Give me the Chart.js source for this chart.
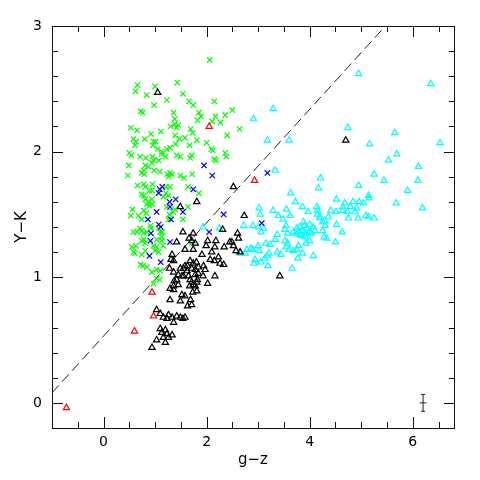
<!DOCTYPE html>
<html lang="en">
<head>
<meta charset="UTF-8">
<title>Y-K vs g-z</title>
<script src="https://cdn.jsdelivr.net/npm/chart.js"></script>
<style>
  html, body { margin: 0; padding: 0; background: #fff; }
</style>
</head>
<body>
<canvas id="colourChart" width="480" height="480"></canvas>
<script>
// axis ranges and ticks
const xRange = [-1, 6.8];
const yRange = [-0.2, 3];
const xTickVals = [-0.5, 0, 0.5, 1, 1.5, 2, 2.5, 3, 3.5, 4, 4.5, 5, 5.5, 6, 6.5];
const xLabels = [0, 2, 4, 6];
const yTickVals = [0, 0.2, 0.4, 0.6, 0.8, 1, 1.2, 1.4, 1.6, 1.8, 2, 2.2, 2.4, 2.6, 2.8, 3];
const yLabels = [0, 1, 2, 3];

// green crosses
const greenPts = [
  [2.06,2.73],[0.66,2.53],[0.62,2.48],[1.0,2.52],[1.43,2.55],[0.84,2.45],[1.54,2.46],[1.23,2.41],[1.66,2.40],[1.74,2.37],
  [2.15,2.40],[0.98,2.37],[0.72,2.32],[0.76,2.31],[1.36,2.31],[1.85,2.31],[1.89,2.28],[1.82,2.25],[1.38,2.26],[2.36,2.29],
  [2.5,2.33],[2.17,2.28],[2.27,2.23],[2.11,2.24],[1.38,2.22],[1.30,2.20],[1.45,2.21],[1.42,2.19],[0.53,2.19],[0.65,2.17],
  [1.11,2.16],[0.92,2.14],[1.69,2.18],[1.73,2.15],[1.39,2.13],[1.58,2.11],[1.47,2.10],[0.58,2.10],[0.63,2.08],[0.61,2.05],
  [0.80,2.10],[0.97,2.08],[1.01,2.08],[0.96,2.05],[1.81,2.09],[2.0,2.07],[2.40,2.13],[1.40,2.06],[1.29,2.03],[1.67,2.05],
  [1.05,2.02],[1.13,2.0],[1.23,2.02],[2.09,2.02],[2.12,2.01],[0.5,1.99],[2.36,1.99],[2.64,2.18],[2.15,1.94],
  [0.54,1.97],[0.71,1.96],[0.82,1.95],[0.95,1.96],[0.97,1.93],[0.94,1.91],[1.07,1.93],[1.13,1.98],[1.2,1.96],[1.42,1.97],
  [1.49,1.96],[1.71,1.97],[1.68,1.95],[2.18,1.93],[2.38,1.96],[0.49,1.89],[0.81,1.89],[0.87,1.88],[0.78,1.85],[0.74,1.83],
  [0.79,1.82],[0.98,1.85],[1.09,1.84],[1.24,1.82],[1.29,1.83],[1.33,1.82],[1.26,1.80],[0.47,1.81],[1.49,1.81],[1.56,1.79],
  [1.72,1.82],[0.66,1.73],[0.78,1.74],[0.81,1.72],[0.95,1.74],[0.89,1.69],[0.94,1.69],[0.74,1.66],[0.78,1.65],[1.21,1.72],
  [1.29,1.72],[1.21,1.67],[1.26,1.65],[1.16,1.64],[1.64,1.72],[1.85,1.67],[0.81,1.62],[0.87,1.60],[0.94,1.62],[0.84,1.58],
  [0.89,1.57],[0.95,1.58],[0.56,1.54],[0.53,1.49],[0.78,1.53],[0.83,1.51],[0.68,1.49],[0.74,1.46],[1.23,1.56],[1.28,1.50],
  [1.35,1.52],[1.39,1.54],[1.26,1.46],[1.54,1.46],[1.64,1.56],[0.91,1.41],[0.92,1.39],[0.71,1.39],[0.74,1.37],[0.65,1.36],
  [0.58,1.36],[0.78,1.35],[0.84,1.36],[1.07,1.39],[1.10,1.36],[1.14,1.36],[1.13,1.32],[0.78,1.30],[0.74,1.29],[0.81,1.27],
  [1.03,1.30],[1.13,1.29],[1.16,1.25],[1.03,1.24],[0.97,1.25],[0.55,1.24],[0.63,1.25],[0.58,1.20],[0.61,1.19],[0.74,1.18],
  [0.81,1.21],[1.0,1.21],[1.07,1.20],[0.72,1.10],[0.76,1.09],[0.84,1.08],[0.94,1.04],[1.03,1.06],[1.10,1.05],[1.03,0.99],
  [1.09,0.98],[0.97,0.95],[1.71,1.27]
];

// blue crosses
const bluePts = [
  [1.95,1.89],[2.11,1.81],[1.14,1.72],[1.09,1.70],[1.07,1.67],[1.74,1.70],[1.28,1.60],[1.29,1.56],[1.40,1.62],[1.54,1.52],
  [1.03,1.52],[1.31,1.46],[0.86,1.46],[2.33,1.50],[1.07,1.42],[1.11,1.40],[0.92,1.35],[1.29,1.28],[0.91,1.29],[0.89,1.17],
  [1.11,1.12],[3.18,1.83],[2.05,1.36],[3.07,1.43]
];

// red triangles
const redPts = [[2.05,2.20],[2.93,1.77],[0.94,0.88],[0.97,0.69],[0.60,0.57],[-0.72,-0.04]];

// black triangles
const blackPts = [
  [1.05,2.47],[2.52,1.72],[1.81,1.60],[1.49,1.56],[4.70,2.09],[2.73,1.49],[2.60,1.35],[2.62,1.31],[2.49,1.28],[2.52,1.25],
  [2.57,1.21],[2.65,1.20],[3.42,1.01],[2.31,1.38],[1.54,1.36],[1.74,1.35],[1.42,1.28],[1.71,1.29],[1.74,1.22],[2.02,1.29],
  [2.18,1.29],[2.16,1.24],[2.34,1.24],[1.33,1.18],[1.36,1.13],[1.58,1.22],[2.10,1.20],[1.91,1.18],[2.07,1.14],[2.15,1.13],
  [2.23,1.16],[2.26,1.11],[2.33,1.10],[1.68,1.13],[1.74,1.11],[1.80,1.12],[1.84,1.08],[1.71,1.07],[1.78,1.06],[1.94,1.09],
  [1.97,1.06],[1.49,1.07],[1.58,1.09],[1.62,1.05],[1.55,1.01],[1.65,1.01],[1.68,0.98],[2.16,1.01],[1.93,1.01],[2.02,0.95],
  [1.81,0.96],[1.74,0.94],[1.42,0.98],[1.45,0.94],[1.36,0.93],[1.31,1.14],[1.63,1.09],[1.55,1.07],[1.28,1.07],[1.36,1.04],
  [1.45,1.02],[1.52,1.01],[1.37,0.97],[1.29,0.91],[1.36,0.90],[1.71,0.96],[1.67,0.93],[1.78,0.93],[1.81,0.89],[1.73,0.88],
  [1.52,0.86],[1.58,0.85],[1.49,0.81],[1.63,0.77],[1.69,0.82],[1.71,0.78],[1.29,0.82],[1.03,0.74],[1.10,0.71],[1.16,0.68],
  [1.23,0.67],[1.26,0.70],[1.33,0.68],[1.42,0.69],[1.49,0.68],[1.54,0.67],[1.58,0.68],[1.36,0.64],[1.10,0.59],[1.20,0.58],
  [1.13,0.56],[1.23,0.55],[1.33,0.54],[1.26,0.52],[1.16,0.52],[1.03,0.50],[0.94,0.44],[1.20,0.48],[1.66,1.31],[1.78,1.27],
  [1.99,1.25],[1.84,1.03],[1.82,0.98],[1.78,1.02],[2.45,1.28]
];

// cyan triangles
const cyanPts = [
  [4.95,2.62],[6.35,2.54],[3.29,2.34],[2.91,2.26],[4.74,2.19],[5.65,2.15],[3.18,2.09],[3.60,2.09],[5.16,2.06],[6.53,2.07],
  [5.69,1.98],[5.53,1.93],[6.11,1.88],[5.25,1.82],[3.33,1.85],[4.21,1.79],[5.44,1.77],[6.10,1.77],[4.17,1.71],[4.95,1.73],
  [5.90,1.69],[3.63,1.67],[5.14,1.65],[5.15,1.63],[5.68,1.59],[6.19,1.55],[4.52,1.62],[4.68,1.59],[4.84,1.60],[4.96,1.60],
  [5.04,1.59],[4.64,1.56],[4.91,1.55],[4.79,1.56],[3.72,1.60],[3.86,1.56],[4.14,1.56],[4.15,1.53],[4.15,1.50],[4.19,1.48],
  [3.97,1.52],[4.41,1.53],[4.51,1.52],[4.73,1.52],[3.02,1.55],[3.04,1.50],[3.29,1.53],[3.39,1.49],[3.55,1.54],[3.62,1.49],
  [3.48,1.46],[4.75,1.47],[4.94,1.47],[5.09,1.49],[5.14,1.48],[5.25,1.47],[4.21,1.47],[4.25,1.44],[4.29,1.45],[4.36,1.48],
  [3.88,1.44],[4.0,1.42],[4.52,1.42],[2.72,1.41],[2.90,1.41],[3.01,1.40],[3.10,1.39],[3.06,1.36],[3.54,1.41],[3.52,1.38],
  [3.75,1.39],[3.81,1.40],[3.89,1.41],[3.94,1.39],[4.07,1.40],[3.80,1.36],[3.86,1.37],[3.93,1.35],[3.85,1.33],[3.99,1.36],
  [4.10,1.37],[3.57,1.35],[3.68,1.36],[4.25,1.37],[4.30,1.41],[4.63,1.36],[4.28,1.32],[4.33,1.31],[3.37,1.34],[3.33,1.30],
  [3.15,1.27],[3.23,1.26],[2.86,1.23],[2.90,1.22],[3.02,1.21],[3.0,1.25],[3.52,1.29],[3.57,1.27],[3.54,1.24],[3.60,1.22],
  [3.68,1.21],[3.78,1.25],[3.86,1.19],[3.75,1.22],[3.93,1.27],[4.0,1.29],[2.65,1.19],[2.75,1.19],[3.21,1.19],[3.18,1.17],
  [3.37,1.20],[3.44,1.18],[4.07,1.17],[2.94,1.14],[3.05,1.12],[2.92,1.11],[3.13,1.15],[3.77,1.15],[3.19,1.09],[3.66,1.07],
  [4.50,1.28],[1.93,1.40],[2.25,1.39],[4.88,1.52],[4.64,1.53],[2.78,1.22],[3.91,1.32],[4.03,1.35],[3.73,1.35],[3.81,1.34]
];

// dashed dividing line (end points)
const divX = [-1, 5.47];
const divY = [0.08, 3];

// typical error bar
const errX = 6.2, errY = 0, errDx = 0.065, errDy = 0.067;

const toXY = pts => pts.map(p => ({ x: p[0], y: p[1] }));
const fontFamily = "'DejaVu Sans', sans-serif";

function scatterSet(pts, color, style) {
    return {
        data: toXY(pts),
        pointStyle: style,
        pointRadius: style === 'triangle' ? 3.6 : 3.8,
        pointBorderWidth: 1.2,
        borderColor: color,
        backgroundColor: 'rgba(0,0,0,0)',
        showLine: false
    };
}

// frame with inward ticks on all four sides
const frameTicks = {
    id: 'frameTicks',
    afterDraw(chart) {
        const ctx = chart.ctx;
        const a = chart.chartArea;
        const L = Math.round(a.left), R = Math.round(a.right);
        const T = Math.round(a.top), B = Math.round(a.bottom);
        ctx.save();
        ctx.fillStyle = '#111';
        ctx.fillRect(L, T, R - L + 1, 1);
        ctx.fillRect(L, B, R - L + 1, 1);
        ctx.fillRect(L, T, 1, B - T + 1);
        ctx.fillRect(R, T, 1, B - T + 1);
        for (let i = 0; i < xTickVals.length; i++) {
            const v = xTickVals[i];
            const px = Math.round(chart.scales.x.getPixelForValue(v));
            const len = xLabels.indexOf(v) >= 0 ? 11 : 6;
            ctx.fillRect(px, B - len, 1, len);
            ctx.fillRect(px, T, 1, len);
        }
        for (let i = 0; i < yTickVals.length; i++) {
            const v = yTickVals[i];
            const py = Math.round(chart.scales.y.getPixelForValue(v));
            const len = yLabels.indexOf(v) >= 0 ? 11 : 6;
            ctx.fillRect(L, py, len, 1);
            ctx.fillRect(R - len + 1, py, len, 1);
        }
        ctx.restore();
    }
};

const config = {
    type: 'scatter',
    data: {
        datasets: [
            scatterSet(redPts, '#ff0000', 'triangle'),
            scatterSet(bluePts, '#0000ff', 'crossRot'),
            scatterSet(blackPts, '#000000', 'triangle'),
            scatterSet(greenPts, '#00ff00', 'crossRot'),
            scatterSet(cyanPts, '#00ffff', 'triangle'),
            {
                data: divX.map((v, i) => ({ x: v, y: divY[i] })),
                showLine: true,
                pointRadius: 0,
                borderColor: '#222',
                borderWidth: 1,
                borderDash: [10, 5]
            },
            {
                data: [{ x: errX, y: errY - errDy }, { x: errX, y: errY + errDy }],
                showLine: true,
                pointRadius: 0,
                borderColor: '#222',
                borderWidth: 1
            },
            {
                data: [{ x: errX - errDx, y: errY }, { x: errX + errDx, y: errY }],
                showLine: true,
                pointRadius: 0,
                borderColor: '#222',
                borderWidth: 1
            },
            {
                data: [{ x: errX, y: errY - errDy }, { x: errX, y: errY + errDy }],
                showLine: false,
                pointStyle: 'line',
                pointRadius: 2,
                pointBorderWidth: 1,
                borderColor: '#222'
            }
        ]
    },
    options: {
        responsive: false,
        animation: false,
        layout: { padding: { top: 26, right: 26, left: 0, bottom: 0 } },
        plugins: { legend: { display: false }, tooltip: { enabled: false } },
        scales: {
            x: {
                type: 'linear',
                min: xRange[0],
                max: xRange[1],
                afterFit: s => { s.height = 52; },
                afterBuildTicks: s => { s.ticks = xTickVals.map(v => ({ value: v })); },
                grid: { display: false, drawTicks: false },
                border: { display: false },
                ticks: {
                    autoSkip: false, maxRotation: 0, padding: 6, color: '#000',
                    font: { family: fontFamily, size: 14 },
                    callback: v => xLabels.includes(v) ? String(v) : ''
                },
                title: {
                    display: true, text: 'g\u2212z', color: '#000',
                    font: { family: fontFamily, size: 15 },
                    padding: { top: 0, bottom: 11 }
                }
            },
            y: {
                type: 'linear',
                min: yRange[0],
                max: yRange[1],
                afterFit: s => { s.width = 52; },
                afterBuildTicks: s => { s.ticks = yTickVals.map(v => ({ value: v })); },
                grid: { display: false, drawTicks: false },
                border: { display: false },
                ticks: {
                    autoSkip: false, padding: 10, color: '#000',
                    font: { family: fontFamily, size: 14 },
                    callback: v => yLabels.includes(v) ? String(v) : ''
                },
                title: {
                    display: true, text: 'Y\u2212K', color: '#000',
                    font: { family: fontFamily, size: 15 },
                    padding: { top: 13, bottom: 0 }
                }
            }
        }
    },
    plugins: [frameTicks]
};

new Chart(document.getElementById('colourChart'), config);
</script>
</body>
</html>
